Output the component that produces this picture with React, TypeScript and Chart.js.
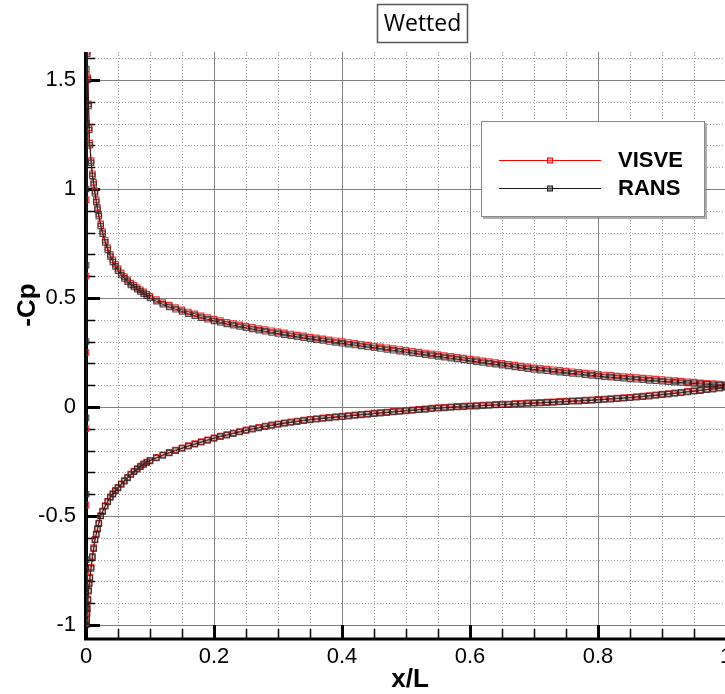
import React, { useEffect, useRef } from "react";
import { Chart, registerables } from "chart.js";

Chart.register(...registerables);

// ---------- data ----------
// shared x/L stations, 0.10 .. 1.00
const xMain = [
  0.10, 0.11, 0.12, 0.13, 0.14, 0.15, 0.16, 0.17, 0.18, 0.19,
  0.20, 0.21, 0.22, 0.23, 0.24, 0.25, 0.26, 0.27, 0.28, 0.29,
  0.30, 0.31, 0.32, 0.33, 0.34, 0.35, 0.36, 0.37, 0.38, 0.39,
  0.40, 0.41, 0.42, 0.43, 0.44, 0.45, 0.46, 0.47, 0.48, 0.49,
  0.50, 0.51, 0.52, 0.53, 0.54, 0.55, 0.56, 0.57, 0.58, 0.59,
  0.60, 0.61, 0.62, 0.63, 0.64, 0.65, 0.66, 0.67, 0.68, 0.69,
  0.70, 0.71, 0.72, 0.73, 0.74, 0.75, 0.76, 0.77, 0.78, 0.79,
  0.80, 0.81, 0.82, 0.83, 0.84, 0.85, 0.86, 0.87, 0.88, 0.89,
  0.90, 0.91, 0.92, 0.93, 0.94, 0.95, 0.96, 0.97, 0.98, 0.99,
  1.00,
];

// upper side, leading-edge stations
const xUpperLE = [
  0.0015, 0.002, 0.003, 0.004, 0.005, 0.006, 0.008, 0.010, 0.012, 0.014,
  0.016, 0.018, 0.020, 0.023, 0.026, 0.030, 0.034, 0.038, 0.042, 0.046,
  0.050, 0.055, 0.060, 0.065, 0.070, 0.075, 0.080, 0.085, 0.090, 0.095,
];
const ransUpperLE = [
  1.72, 1.62, 1.50, 1.38, 1.27, 1.20, 1.12, 1.06, 1.02, 0.98,
  0.94, 0.905, 0.875, 0.83, 0.795, 0.755, 0.72, 0.69, 0.665, 0.645,
  0.625, 0.605, 0.59, 0.575, 0.56, 0.55, 0.54, 0.53, 0.52, 0.51,
];
const visveUpperLE = [
  1.73, 1.63, 1.51, 1.39, 1.28, 1.21, 1.13, 1.07, 1.03, 0.99,
  0.95, 0.915, 0.885, 0.84, 0.805, 0.765, 0.73, 0.70, 0.675, 0.655,
  0.635, 0.615, 0.598, 0.583, 0.568, 0.558, 0.548, 0.538, 0.528, 0.518,
];
const ransUpperMain = [
  0.500, 0.485, 0.471, 0.459, 0.448, 0.438, 0.428, 0.419, 0.410, 0.402,
  0.395, 0.388, 0.381, 0.375, 0.369, 0.363, 0.358, 0.352, 0.347, 0.342,
  0.337, 0.332, 0.327, 0.322, 0.318, 0.313, 0.309, 0.305, 0.300, 0.296,
  0.292, 0.288, 0.284, 0.280, 0.276, 0.272, 0.268, 0.264, 0.260, 0.256,
  0.252, 0.248, 0.244, 0.240, 0.236, 0.232, 0.228, 0.224, 0.220, 0.216,
  0.212, 0.208, 0.204, 0.200, 0.196, 0.192, 0.188, 0.184, 0.180, 0.176,
  0.172, 0.169, 0.166, 0.163, 0.160, 0.157, 0.154, 0.151, 0.148, 0.145,
  0.142, 0.139, 0.137, 0.134, 0.132, 0.129, 0.127, 0.125, 0.122, 0.120,
  0.118, 0.116, 0.114, 0.112, 0.110, 0.108, 0.106, 0.104, 0.102, 0.100,
  0.098,
];
const visveUpperMain = [
  0.508, 0.493, 0.479, 0.467, 0.456, 0.446, 0.436, 0.427, 0.418, 0.410,
  0.403, 0.396, 0.389, 0.383, 0.377, 0.371, 0.366, 0.360, 0.355, 0.350,
  0.345, 0.340, 0.335, 0.330, 0.326, 0.321, 0.317, 0.313, 0.308, 0.304,
  0.300, 0.296, 0.292, 0.288, 0.284, 0.280, 0.276, 0.272, 0.268, 0.264,
  0.260, 0.256, 0.252, 0.248, 0.244, 0.240, 0.236, 0.232, 0.228, 0.224,
  0.220, 0.216, 0.212, 0.208, 0.204, 0.200, 0.196, 0.192, 0.188, 0.184,
  0.180, 0.177, 0.174, 0.171, 0.168, 0.165, 0.162, 0.159, 0.156, 0.153,
  0.150, 0.147, 0.145, 0.142, 0.140, 0.137, 0.135, 0.133, 0.130, 0.128,
  0.126, 0.124, 0.121, 0.119, 0.116, 0.114, 0.111, 0.109, 0.107, 0.105,
  0.103,
];

// points around the nose (x/L ~ 0), from suction peak to stagnation
const xNose = [0.0006, 0.0004, 0.0003, 0.0002, 0.0001, 0.0001, 0.0001, 0.0002, 0.0003];
const ransNose = [1.55, 1.30, 1.00, 0.65, 0.30, -0.05, -0.40, -0.70, -0.92];
const visveNose = [1.52, 1.25, 0.95, 0.60, 0.25, -0.10, -0.45, -0.75, -0.94];

// lower side, leading-edge stations
const xLowerLE = [
  0.0005, 0.001, 0.0015, 0.002, 0.003, 0.004, 0.005, 0.006, 0.008, 0.010,
  0.012, 0.014, 0.016, 0.018, 0.020, 0.023, 0.026, 0.030, 0.034, 0.038,
  0.042, 0.046, 0.050, 0.055, 0.060, 0.065, 0.070, 0.075, 0.080, 0.085,
  0.090, 0.095,
];
const ransLowerLE = [
  -1.00, -0.98, -0.95, -0.925, -0.885, -0.845, -0.81, -0.785, -0.74, -0.69,
  -0.65, -0.61, -0.585, -0.56, -0.535, -0.50, -0.48, -0.455, -0.435, -0.415,
  -0.400, -0.385, -0.371, -0.355, -0.340, -0.325, -0.310, -0.297, -0.285, -0.274,
  -0.264, -0.255,
];
const visveLowerLE = [
  -0.99, -0.97, -0.945, -0.92, -0.88, -0.84, -0.805, -0.78, -0.735, -0.685,
  -0.645, -0.607, -0.582, -0.557, -0.532, -0.498, -0.477, -0.452, -0.432, -0.412,
  -0.397, -0.382, -0.368, -0.352, -0.337, -0.322, -0.307, -0.294, -0.282, -0.271,
  -0.261, -0.252,
];
const ransLowerMain = [
  -0.247, -0.234, -0.222, -0.211, -0.200, -0.190, -0.180, -0.171, -0.162, -0.153,
  -0.144, -0.136, -0.129, -0.122, -0.115, -0.108, -0.102, -0.096, -0.090, -0.085,
  -0.080, -0.075, -0.071, -0.067, -0.063, -0.059, -0.056, -0.053, -0.050, -0.047,
  -0.045, -0.042, -0.039, -0.036, -0.034, -0.031, -0.028, -0.026, -0.023, -0.021,
  -0.018, -0.016, -0.013, -0.011, -0.008, -0.006, -0.004, -0.002, 0.000, 0.001,
  0.003, 0.004, 0.006, 0.007, 0.009, 0.010, 0.011, 0.013, 0.014, 0.016,
  0.017, 0.018, 0.020, 0.021, 0.023, 0.024, 0.026, 0.027, 0.029, 0.030,
  0.032, 0.034, 0.036, 0.038, 0.040, 0.042, 0.045, 0.047, 0.050, 0.053,
  0.056, 0.059, 0.062, 0.065, 0.069, 0.072, 0.075, 0.079, 0.082, 0.086,
  0.090,
];
const visveLowerMain = [
  -0.244, -0.231, -0.219, -0.208, -0.197, -0.187, -0.177, -0.168, -0.159, -0.150,
  -0.141, -0.133, -0.126, -0.119, -0.112, -0.105, -0.099, -0.093, -0.087, -0.082,
  -0.077, -0.072, -0.068, -0.064, -0.060, -0.056, -0.053, -0.050, -0.047, -0.044,
  -0.042, -0.039, -0.036, -0.033, -0.031, -0.028, -0.025, -0.023, -0.020, -0.018,
  -0.015, -0.013, -0.010, -0.008, -0.005, -0.003, -0.001, 0.001, 0.003, 0.004,
  0.006, 0.007, 0.009, 0.010, 0.012, 0.013, 0.014, 0.016, 0.017, 0.019,
  0.020, 0.021, 0.023, 0.024, 0.026, 0.027, 0.029, 0.030, 0.032, 0.033,
  0.035, 0.037, 0.039, 0.041, 0.043, 0.045, 0.048, 0.050, 0.053, 0.056,
  0.059, 0.062, 0.065, 0.068, 0.072, 0.075, 0.078, 0.082, 0.085, 0.089,
  0.093,
];

// axes
const xTicks = [0, 0.2, 0.4, 0.6, 0.8, 1];
const yTicks = [-1, -0.5, 0, 0.5, 1, 1.5];
const xMinor = [0.05, 0.1, 0.15, 0.25, 0.3, 0.35, 0.45, 0.5, 0.55, 0.65, 0.7, 0.75, 0.85, 0.9, 0.95];
const yMinor = [-0.9, -0.8, -0.7, -0.6, -0.4, -0.3, -0.2, -0.1, 0.1, 0.2, 0.3, 0.4, 0.6, 0.7, 0.8, 0.9, 1.1, 1.2, 1.3, 1.4, 1.6];
const xRange = [0, 1];
const yRange = [-1.064, 1.628];

const seriesNames = ["VISVE", "RANS"];
const seriesColors = ["#ff0000", "#1a1a1a"];
const titleText = "Wetted";
const xTitle = "x/L";
const yTitle = "-Cp";

function buildPath(
  xu: number[], yu: number[], xn: number[], yn: number[], xl: number[], yl: number[]
) {
  const pts: { x: number; y: number }[] = [];
  for (let i = xu.length - 1; i >= 0; i--) pts.push({ x: xu[i], y: yu[i] });
  for (let i = 0; i < xn.length; i++) pts.push({ x: xn[i], y: yn[i] });
  for (let i = 0; i < xl.length; i++) pts.push({ x: xl[i], y: yl[i] });
  return pts;
}

const decorPlugin = {
  id: "decor",
  beforeDatasetsDraw(chart: any) {
    const ctx = chart.ctx as CanvasRenderingContext2D;
    const { left, top, right, bottom } = chart.chartArea;
    const xs = chart.scales.x;
    const ys = chart.scales.y;
    ctx.save();
    // minor dotted grid
    ctx.setLineDash([1, 2]);
    ctx.strokeStyle = "#9a9a9a";
    ctx.lineWidth = 1;
    ctx.beginPath();
    xMinor.forEach((v) => {
      const p = Math.round(xs.getPixelForValue(v)) + 0.5;
      ctx.moveTo(p, top);
      ctx.lineTo(p, bottom);
    });
    yMinor.forEach((v) => {
      const p = Math.round(ys.getPixelForValue(v)) + 0.5;
      ctx.moveTo(left, p);
      ctx.lineTo(right, p);
    });
    ctx.stroke();
    // major solid grid
    ctx.setLineDash([]);
    ctx.strokeStyle = "#808080";
    ctx.lineWidth = 1;
    ctx.beginPath();
    xTicks.forEach((v) => {
      if (v === xRange[0]) return;
      const p = Math.round(xs.getPixelForValue(v)) + 0.5;
      ctx.moveTo(p, top);
      ctx.lineTo(p, bottom);
    });
    yTicks.forEach((v) => {
      const p = Math.round(ys.getPixelForValue(v)) + 0.5;
      ctx.moveTo(left, p);
      ctx.lineTo(right, p);
    });
    ctx.stroke();
    // minor ticks
    ctx.strokeStyle = "#000";
    ctx.lineWidth = 1.5;
    ctx.beginPath();
    xMinor.forEach((v) => {
      const p = Math.round(xs.getPixelForValue(v)) + 0.5;
      ctx.moveTo(p, bottom);
      ctx.lineTo(p, bottom - 10);
    });
    yMinor.forEach((v) => {
      const p = Math.round(ys.getPixelForValue(v)) + 0.5;
      ctx.moveTo(left, p);
      ctx.lineTo(left + 9, p);
    });
    ctx.stroke();
    // major ticks
    ctx.lineWidth = 3;
    ctx.beginPath();
    xTicks.forEach((v) => {
      const p = Math.round(xs.getPixelForValue(v)) + 0.5;
      ctx.moveTo(p, bottom);
      ctx.lineTo(p, bottom - 14);
    });
    yTicks.forEach((v) => {
      const p = Math.round(ys.getPixelForValue(v)) + 0.5;
      ctx.moveTo(left, p);
      ctx.lineTo(left + 14, p);
    });
    ctx.stroke();
    // axis lines
    ctx.lineWidth = 4;
    ctx.beginPath();
    ctx.moveTo(left, top);
    ctx.lineTo(left, bottom + 1);
    ctx.stroke();
    ctx.lineWidth = 3;
    ctx.beginPath();
    ctx.moveTo(left - 2, bottom);
    ctx.lineTo(right + 10, bottom);
    ctx.stroke();
    ctx.restore();
  },
  afterDraw(chart: any) {
    const ctx = chart.ctx as CanvasRenderingContext2D;
    ctx.save();
    // title box
    ctx.fillStyle = "#fff";
    ctx.fillRect(377, 4, 91, 39);
    ctx.strokeStyle = "#555";
    ctx.lineWidth = 1.5;
    ctx.strokeRect(377.5, 4.5, 90, 38);
    ctx.fillStyle = "#000";
    ctx.font = '23px "Open Sans", "DejaVu Sans", sans-serif';
    ctx.textAlign = "center";
    ctx.textBaseline = "middle";
    ctx.fillText(titleText, 422.5, 24);

    // axis titles
    ctx.font = 'bold 26px "Liberation Sans", Arial, sans-serif';
    ctx.fillText(xTitle, 410, 680);
    ctx.save();
    ctx.translate(28, 305);
    ctx.rotate(-Math.PI / 2);
    ctx.fillText(yTitle, 0, 0);
    ctx.restore();

    // legend
    const bx = 481, by = 121, bw = 223, bh = 95;
    ctx.fillStyle = "rgba(120,120,120,0.6)";
    ctx.fillRect(bx + 2, by + 2, bw + 1, bh + 1);
    ctx.fillStyle = "#fff";
    ctx.fillRect(bx, by, bw, bh);
    ctx.strokeStyle = "#8a8a8a";
    ctx.lineWidth = 1;
    ctx.strokeRect(bx + 0.5, by + 0.5, bw, bh);
    const rows = [160, 188];
    seriesNames.forEach((name, i) => {
      const y = rows[i] + 0.5;
      ctx.strokeStyle = seriesColors[i];
      ctx.lineWidth = 1;
      ctx.beginPath();
      ctx.moveTo(499, y);
      ctx.lineTo(601, y);
      ctx.stroke();
      ctx.fillStyle = i === 0 ? "rgba(255,120,120,0.6)" : "rgba(90,90,90,0.6)";
      ctx.fillRect(547.5, y - 2.5, 5, 5);
      ctx.strokeRect(547.5, y - 2.5, 5, 5);
      ctx.fillStyle = "#000";
      ctx.font = 'bold 22px "Liberation Sans", Arial, sans-serif';
      ctx.textAlign = "left";
      ctx.textBaseline = "middle";
      ctx.fillText(name, 618, rows[i] + 1);
    });
    ctx.restore();
  },
};

export default function App() {
  const ref = useRef<HTMLCanvasElement | null>(null);
  useEffect(() => {
    if (!ref.current) return;
    const visve = buildPath(
      [...xUpperLE, ...xMain], [...visveUpperLE, ...visveUpperMain],
      xNose, visveNose,
      [...xLowerLE, ...xMain], [...visveLowerLE, ...visveLowerMain]
    );
    const rans = buildPath(
      [...xUpperLE, ...xMain], [...ransUpperLE, ...ransUpperMain],
      xNose, ransNose,
      [...xLowerLE, ...xMain], [...ransLowerLE, ...ransLowerMain]
    );
    const tickFont = { family: '"Liberation Sans", Arial, sans-serif', size: 22 };
    const chart = new Chart(ref.current, {
      type: "scatter",
      data: {
        datasets: [
          {
            label: seriesNames[0],
            data: visve,
            order: 1,
            showLine: true,
            borderColor: seriesColors[0],
            borderWidth: 1,
            pointStyle: "rect",
            pointRadius: 3.8,
            pointBorderWidth: 1.2,
            pointBorderColor: "rgba(235,30,30,0.9)",
            pointBackgroundColor: "rgba(255,140,140,0.15)",
          },
          {
            label: seriesNames[1],
            data: rans,
            order: 0,
            showLine: true,
            borderColor: seriesColors[1],
            borderWidth: 1,
            pointStyle: "rect",
            pointRadius: 3.8,
            pointBorderWidth: 1.2,
            pointBorderColor: "rgba(30,30,30,0.75)",
            pointBackgroundColor: "rgba(90,90,90,0.15)",
          },
        ],
      },
      options: {
        animation: false,
        responsive: false,
        maintainAspectRatio: false,
        layout: { padding: { left: 0, top: 52, right: 14, bottom: 0 } },
        plugins: {
          legend: { display: false },
          tooltip: { enabled: false },
          title: { display: false },
        },
        scales: {
          x: {
            type: "linear",
            min: xRange[0],
            max: xRange[1],
            afterFit: (s: any) => { s.height = 55; },
            afterBuildTicks: (s: any) => { s.ticks = xTicks.map((v) => ({ value: v })); },
            grid: { display: false, drawTicks: false },
            border: { display: false },
            ticks: {
              font: tickFont,
              color: "#000",
              padding: 5,
              maxRotation: 0,
              autoSkip: false,
              callback: (v: any) => String(v),
            },
          },
          y: {
            type: "linear",
            min: yRange[0],
            max: yRange[1],
            afterFit: (s: any) => { s.width = 86; },
            afterBuildTicks: (s: any) => { s.ticks = yTicks.map((v) => ({ value: v })); },
            grid: { display: false, drawTicks: false },
            border: { display: false },
            ticks: {
              font: tickFont,
              color: "#000",
              padding: 10,
              autoSkip: false,
              callback: (v: any) => String(v),
            },
          },
        },
      },
      plugins: [decorPlugin],
    });
    return () => chart.destroy();
  }, []);
  return (
    <div
      style={{
        position: "fixed",
        left: 0,
        top: 0,
        width: 725,
        height: 694,
        overflow: "hidden",
        background: "#fff",
      }}
    >
      <canvas ref={ref} width={740} height={694} style={{ display: "block" }} />
    </div>
  );
}
